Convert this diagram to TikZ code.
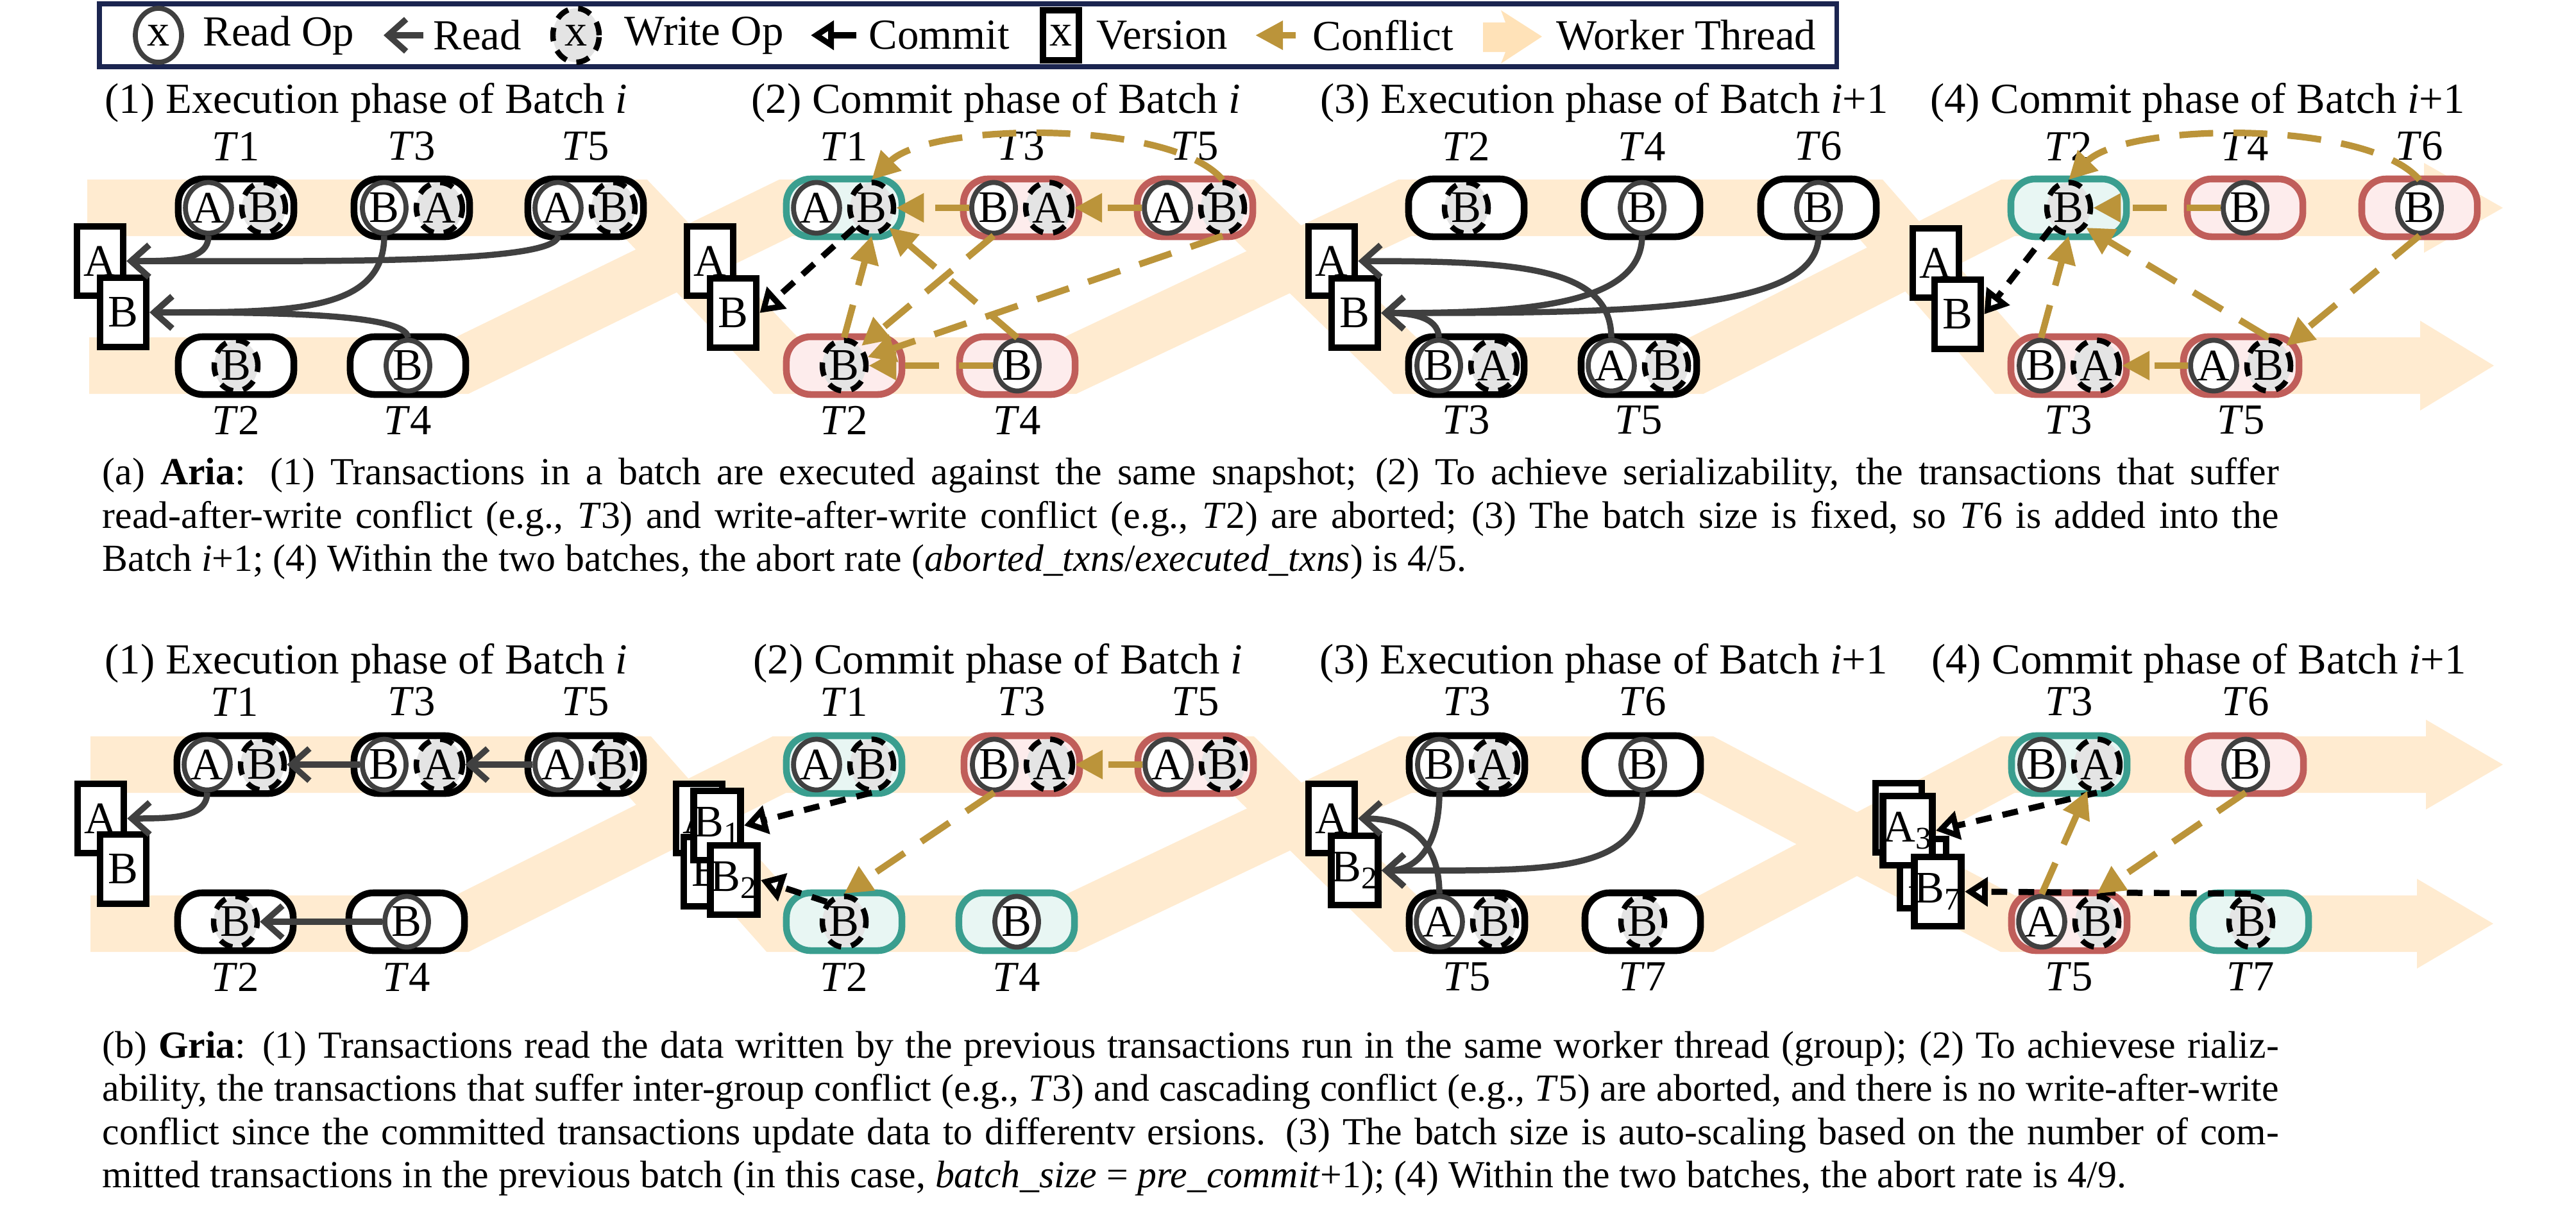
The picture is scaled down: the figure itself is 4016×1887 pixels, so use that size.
\documentclass[tikz,border=0pt]{standalone}
\usepackage{fontspec}
\setmainfont{Liberation Serif}
\usepackage{xcolor}
\usepackage{tikz}
\usetikzlibrary{arrows.meta,shapes.geometric}

\definecolor{threadbg}{RGB}{255,235,208}
\definecolor{threadkey}{RGB}{255,226,184}
\definecolor{okline}{RGB}{58,158,143}
\definecolor{okfill}{RGB}{232,246,243}
\definecolor{abline}{RGB}{192,94,90}
\definecolor{abfill}{RGB}{253,236,236}
\definecolor{cfgold}{RGB}{187,148,58}
\definecolor{rdgray}{RGB}{64,64,64}
\definecolor{wrfill}{RGB}{228,228,228}
\definecolor{navy}{RGB}{27,37,80}

\tikzset{
  lab/.style={font=\fontsize{19}{22}\selectfont, inner sep=0pt},
  oplab/.style={font=\fontsize{20}{22}\selectfont},
  txn/.style={draw=black, line width=3pt, fill=white, rounded corners=0.38cm,
    minimum width=1.8cm, minimum height=0.9cm},
  txnok/.style={txn, draw=okline, fill=okfill},
  txnab/.style={txn, draw=abline, fill=abfill},
  rop/.style={ellipse, draw=rdgray, line width=2.2pt, fill=white, inner sep=0pt,
    minimum width=0.68cm, minimum height=0.79cm, oplab},
  wop/.style={ellipse, draw=black, line width=2.4pt, fill=wrfill, inner sep=0pt,
    dash pattern=on 6pt off 4.5pt, minimum width=0.68cm, minimum height=0.79cm, oplab},
  ver/.style={rectangle, draw=black, line width=3pt, fill=white, inner sep=0pt,
    minimum width=0.72cm, minimum height=1.08cm, oplab},
  band/.style={draw=threadbg, line width=0.88cm, line join=miter},
  readarr/.style={draw=rdgray, line width=2.7pt, -{Straight Barb[length=2.8mm,width=5mm]}},
  commitarr/.style={draw=black, line width=2.7pt, dash pattern=on 7pt off 5pt,
    -{Triangle[open,fill=white,length=3.6mm,width=4.4mm]}},
  conflarr/.style={draw=cfgold, line width=2.9pt, dash pattern=on 15pt off 9pt,
    -{Triangle[length=4.3mm,width=4.3mm]}},
  captext/.style={anchor=north west, inner sep=0pt, text width=33.91cm, align=justify,
    font=\fontsize{17}{19.2}\selectfont},
}

% transaction pill with a read op and a write op
\newcommand{\txnrw}[6]{%
  \node[#4] (#1) at (#2,#3) {};
  \node[rop] (#1r) at (#2-43,#3) {#5};
  \node[wop] (#1w) at (#2+43,#3) {#6};}
\newcommand{\txnr}[5]{%
  \node[#4] (#1) at (#2,#3) {};
  \node[rop] (#1r) at (#2,#3) {#5};}
\newcommand{\txnw}[5]{%
  \node[#4] (#1) at (#2,#3) {};
  \node[wop] (#1w) at (#2,#3) {#5};}
\newcommand{\tlab}[4]{\node[lab] (#1) at (#2,#3) {\textit{T}#4};}

\begin{document}
\begin{tikzpicture}[x=0.01cm,y=-0.01cm]
\useasboundingbox (0,0) rectangle (4016,1887);

% legend
\draw[navy, line width=2pt] (155,6) rectangle (2863,104);
\node[rop, minimum width=0.72cm, minimum height=0.84cm] (lgr) at (247,55) {x};
\node[lab, anchor=west] (lgrt) at (316,55) {Read Op};
\coordinate (lgra) at (660,55);
\coordinate (lgrb) at (598,55);
\draw[readarr] (lgra) -- (lgrb);
\node[lab, anchor=west] (lgrd) at (675,55) {Read};
\node[wop, minimum width=0.72cm, minimum height=0.84cm] (lgw) at (898,55) {x};
\node[lab, anchor=west] (lgwt) at (973,55) {Write Op};
\coordinate (lgca) at (1335,55);
\coordinate (lgcb) at (1264,55);
\draw[commitarr, solid] (lgca) -- (lgcb);
\node[lab, anchor=west] (lgct) at (1354,55) {Commit};
\node[ver, minimum width=0.56cm, minimum height=0.78cm] (lgv) at (1654,55) {x};
\node[lab, anchor=west] (lgvt) at (1709,55) {Version};
\coordinate (lgfa) at (2020,55);
\coordinate (lgfb) at (1957,55);
\draw[conflarr, solid] (lgfa) -- (lgfb);
\node[lab, anchor=west] (lgft) at (2046,55) {Conflict};
\fill[threadkey] (2312,35) -- (2347,35) -- (2340,16) -- (2404,57) -- (2340,99) -- (2347,81) -- (2312,81) -- cycle;
\node[lab, anchor=west] (lgtt) at (2426,55) {Worker Thread};

% worker threads (a)
\draw[band] (136,324) -- (990,324) -- (1225,570) -- (1668,570) -- (2190,324) -- (2915,324) -- (3130,570) -- (3773,570);
\draw[band] (139,570) -- (720,570) -- (1225,324) -- (1937,324) -- (2190,570) -- (2645,570) -- (3130,324) -- (3779,324);
\fill[threadbg] (3773,500) -- (3888,570) -- (3773,640) -- cycle;
\fill[threadbg] (3779,254) -- (3902,324) -- (3779,394) -- cycle;

% worker threads (b)
\draw[band] (141,1192) -- (995,1192) -- (1215,1440) -- (1668,1440) -- (2191,1192) -- (2660,1192) -- (3130,1440) -- (3768,1440);
\draw[band] (141,1440) -- (720,1440) -- (1215,1192) -- (1937,1192) -- (2191,1440) -- (2660,1440) -- (3130,1192) -- (3782,1192);
\fill[threadbg] (3768,1370) -- (3887,1440) -- (3768,1510) -- cycle;
\fill[threadbg] (3782,1122) -- (3902,1192) -- (3782,1262) -- cycle;

% titles
\node[lab] (a1h) at (571,160) {(1) Execution phase of Batch \textit{i}};
\node[lab] (a2h) at (1553,160) {(2) Commit phase of Batch \textit{i}};
\node[lab] (a3h) at (2501,160) {(3) Execution phase of Batch \textit{i}+1};
\node[lab] (a4h) at (3426,160) {(4) Commit phase of Batch \textit{i}+1};
\node[lab] (b1h) at (571,1034) {(1) Execution phase of Batch \textit{i}};
\node[lab] (b2h) at (1556,1034) {(2) Commit phase of Batch \textit{i}};
\node[lab] (b3h) at (2500,1034) {(3) Execution phase of Batch \textit{i}+1};
\node[lab] (b4h) at (3428,1034) {(4) Commit phase of Batch \textit{i}+1};

% (a) panel 1
\node[ver] (a1A) at (156,407) {A};
\node[ver] (a1B) at (192,487) {B};
\txnrw{a1t1}{368}{324}{txn}{A}{B}
\txnrw{a1t3}{642}{324}{txn}{B}{A}
\txnrw{a1t5}{913}{324}{txn}{A}{B}
\txnw{a1t2}{368}{570}{txn}{B}
\txnr{a1t4}{636}{570}{txn}{B}
\tlab{a1l1}{368}{228}{1} \tlab{a1l3}{642}{228}{3} \tlab{a1l5}{913}{228}{5}
\tlab{a1l2}{368}{655}{2} \tlab{a1l4}{636}{655}{4}
\draw[readarr] (a1t1r.south) .. controls +(0,40) and +(70,0) .. (a1A.east);
\draw[readarr] (a1t5r.south) .. controls +(0,45) and +(300,0) .. (a1A.east);
\draw[readarr] (a1t3r.south) .. controls +(0,120) and +(220,0) .. (a1B.east);
\draw[readarr] (a1t4r.north) .. controls +(0,-40) and +(160,0) .. (a1B.east);

% (a) panel 2
\node[ver] (a2A) at (1107,407) {A};
\node[ver] (a2B) at (1143,488) {B};
\txnrw{a2t1}{1316}{324}{txnok}{A}{B}
\txnrw{a2t3}{1592}{324}{txnab}{B}{A}
\txnrw{a2t5}{1863}{324}{txnab}{A}{B}
\txnw{a2t2}{1316}{570}{txnab}{B}
\txnr{a2t4}{1586}{570}{txnab}{B}
\tlab{a2l1}{1316}{228}{1} \tlab{a2l3}{1592}{228}{3} \tlab{a2l5}{1863}{228}{5}
\tlab{a2l2}{1316}{655}{2} \tlab{a2l4}{1586}{655}{4}
\draw[commitarr] (a2t1w.south west) -- (a2B.east);
\draw[conflarr] (a2t3r.west) -- (a2t1w.east);
\draw[conflarr] (a2t5r.west) -- (a2t3w.east);
\draw[conflarr] (a2t5w.north) .. controls +(-80,-95) and +(90,-90) .. (a2t1w.north);
\draw[conflarr] (a2t3r.south) -- (a2t2w.north east);
\draw[conflarr] (a2t5w.south) -- (a2t2w.20);
\draw[conflarr] (a2t4r.west) -- (a2t2w.east);
\draw[conflarr] (a2t4r.north) -- (a2t1w.south east);
\draw[conflarr] (a2t2w.north) -- (a2t1w.south);

% (a) panel 3
\node[ver] (a3A) at (2076,407) {A};
\node[ver] (a3B) at (2112,488) {B};
\txnw{a3t2}{2286}{324}{txn}{B}
\txnr{a3t4}{2560}{324}{txn}{B}
\txnr{a3t6}{2835}{324}{txn}{B}
\txnrw{a3t3}{2286}{570}{txn}{B}{A}
\txnrw{a3t5}{2555}{570}{txn}{A}{B}
\tlab{a3l2}{2286}{228}{2} \tlab{a3l4}{2560}{228}{4} \tlab{a3l6}{2835}{228}{6}
\tlab{a3l3}{2286}{655}{3} \tlab{a3l5}{2555}{655}{5}
\draw[readarr] (a3t4r.south) .. controls +(0,110) and +(220,0) .. (a3B.east);
\draw[readarr] (a3t6r.south) .. controls +(0,120) and +(380,0) .. (a3B.east);
\draw[readarr] (a3t3r.north) .. controls +(0,-35) and +(40,0) .. (a3B.east);
\draw[readarr] (a3t5r.north) .. controls +(0,-110) and +(250,0) .. (a3A.east);

% (a) panel 4
\node[ver] (a4A) at (3018,410) {A};
\node[ver] (a4B) at (3052,490) {B};
\txnw{a4t2}{3225}{324}{txnok}{B}
\txnr{a4t4}{3500}{324}{txnab}{B}
\txnr{a4t6}{3772}{324}{txnab}{B}
\txnrw{a4t3}{3225}{570}{txnab}{B}{A}
\txnrw{a4t5}{3494}{570}{txnab}{A}{B}
\tlab{a4l2}{3225}{228}{2} \tlab{a4l4}{3500}{228}{4} \tlab{a4l6}{3772}{228}{6}
\tlab{a4l3}{3225}{655}{3} \tlab{a4l5}{3494}{655}{5}
\draw[commitarr] (a4t2w.south west) -- (a4B.east);
\draw[conflarr] (a4t4r.west) -- (a4t2w.east);
\draw[conflarr] (a4t6r.north) .. controls +(-80,-95) and +(90,-90) .. (a4t2w.north);
\draw[conflarr] (a4t3r.north) -- (a4t2w.south);
\draw[conflarr] (a4t5w.north) -- (a4t2w.south east);
\draw[conflarr] (a4t6r.south) -- (a4t5w.north east);
\draw[conflarr] (a4t5r.west) -- (a4t3w.east);

% (b) panel 1
\node[ver] (b1A) at (157,1276) {A};
\node[ver] (b1B) at (192,1355) {B};
\txnrw{b1t1}{366}{1192}{txn}{A}{B}
\txnrw{b1t3}{642}{1192}{txn}{B}{A}
\txnrw{b1t5}{913}{1192}{txn}{A}{B}
\txnw{b1t2}{367}{1437}{txn}{B}
\txnr{b1t4}{634}{1437}{txn}{B}
\tlab{b1l1}{366}{1094}{1} \tlab{b1l3}{642}{1094}{3} \tlab{b1l5}{913}{1094}{5}
\tlab{b1l2}{367}{1523}{2} \tlab{b1l4}{634}{1523}{4}
\draw[readarr] (b1t3r.west) -- (b1t1w.east);
\draw[readarr] (b1t5r.west) -- (b1t3w.east);
\draw[readarr] (b1t1r.south) .. controls +(0,40) and +(70,0) .. (b1A.east);
\draw[readarr] (b1t4r.west) -- (b1t2w.east);

% (b) panel 2
\node[ver] (b2A) at (1090,1276) {A};
\node[ver] (b2B) at (1102,1359) {B};
\node[ver] (b2B1) at (1118,1287) {B\textsubscript{1}};
\node[ver] (b2B2) at (1144,1372) {B\textsubscript{2}};
\txnrw{b2t1}{1316}{1192}{txnok}{A}{B}
\txnrw{b2t3}{1593}{1192}{txnab}{B}{A}
\txnrw{b2t5}{1864}{1192}{txnab}{A}{B}
\txnw{b2t2}{1316}{1437}{txnok}{B}
\txnr{b2t4}{1585}{1437}{txnok}{B}
\tlab{b2l1}{1316}{1094}{1} \tlab{b2l3}{1593}{1094}{3} \tlab{b2l5}{1864}{1094}{5}
\tlab{b2l2}{1316}{1523}{2} \tlab{b2l4}{1585}{1523}{4}
\draw[commitarr] (b2t1w.south) -- (b2B1.east);
\draw[commitarr] (b2t2w.north west) -- (b2B2.east);
\draw[conflarr] (b2t5r.west) -- (b2t3w.east);
\draw[conflarr] (b2t3r.south) -- (b2t2w.north);

% (b) panel 3
\node[ver] (b3A) at (2076,1276) {A};
\node[ver] (b3B) at (2112,1357) {B\textsubscript{2}};
\txnrw{b3t3}{2287}{1192}{txn}{B}{A}
\txnr{b3t6}{2561}{1192}{txn}{B}
\txnrw{b3t5}{2287}{1437}{txn}{A}{B}
\txnw{b3t7}{2561}{1437}{txn}{B}
\tlab{b3l3}{2287}{1094}{3} \tlab{b3l6}{2561}{1094}{6}
\tlab{b3l5}{2287}{1523}{5} \tlab{b3l7}{2561}{1523}{7}
\draw[readarr] (b3t3r.south) .. controls +(0,90) and +(50,0) .. (b3B.east);
\draw[readarr] (b3t6r.south) .. controls +(0,130) and +(250,0) .. (b3B.east);
\draw[readarr] (b3t5r.north) .. controls +(0,-90) and +(70,0) .. (b3A.east);

% (b) panel 4
\node[ver] (b4A) at (2960,1275) {A};
\node[ver] (b4B) at (2998,1362) {B};
\node[ver] (b4A3) at (2974,1295) {A\textsubscript{3}};
\node[ver] (b4B7) at (3021,1390) {B\textsubscript{7}};
\txnrw{b4t3}{3226}{1192}{txnok}{B}{A}
\txnr{b4t6}{3501}{1192}{txnab}{B}
\txnrw{b4t5}{3226}{1437}{txnab}{A}{B}
\txnw{b4t7}{3509}{1437}{txnok}{B}
\tlab{b4l3}{3226}{1094}{3} \tlab{b4l6}{3501}{1094}{6}
\tlab{b4l5}{3226}{1523}{5} \tlab{b4l7}{3509}{1523}{7}
\draw[commitarr] (b4t3w.south) -- (b4A3.east);
\draw[commitarr] (b4t7w.north) -- (b4B7.east);
\draw[conflarr] (b4t5r.north) -- (b4t3w.250);
\draw[conflarr] (b4t6r.south) -- (b4t5w.north);

% captions
\node[captext] (capa) at (159,713) {(a) \textbf{Aria}: (1) Transactions in a batch are executed against the same snapshot; (2) To achieve serializability, the transactions that suffer\linebreak read-after-write conflict (e.g., \textit{T}3) and write-after-write conflict (e.g., \textit{T}2) are aborted; (3) The batch size is fixed, so \textit{T}6 is added into the\linebreak Batch \textit{i}+1; (4) Within the two batches, the abort rate (\textit{aborted\_txns}/\textit{executed\_txns}) is 4/5.};
\node[captext] (capb) at (159,1607) {(b) \textbf{Gria}: (1) Transactions read the data written by the previous transactions run in the same worker thread (group); (2) To achievese rializ-\linebreak ability, the transactions that suffer inter-group conflict (e.g., \textit{T}3) and cascading conflict (e.g., \textit{T}5) are aborted, and there is no write-after-write\linebreak conflict since the committed transactions update data to differentv ersions. (3) The batch size is auto-scaling based on the number of com-\linebreak mitted transactions in the previous batch (in this case, \textit{batch\_size} = \textit{pre\_commit}+1); (4) Within the two batches, the abort rate is 4/9.};
\end{tikzpicture}
\end{document}
